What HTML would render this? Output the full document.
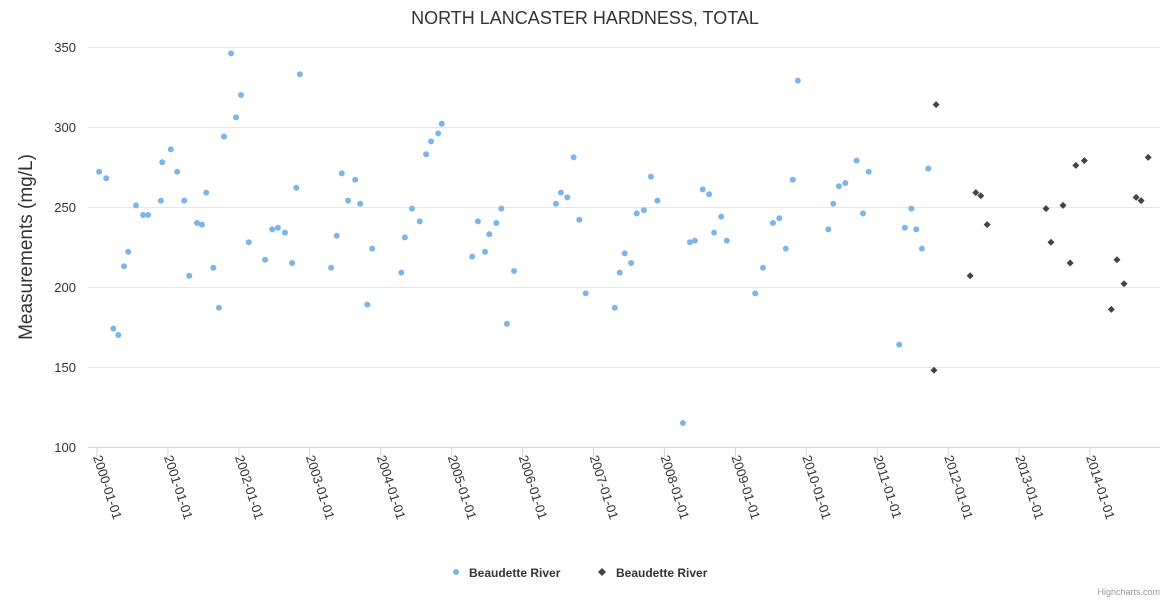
<!DOCTYPE html>
<html><head><meta charset="utf-8"><style>
body{margin:0;background:#fff;font-family:"Liberation Sans",sans-serif}
svg text{font-family:"Liberation Sans",sans-serif}
</style></head><body>
<svg id="chart" width="1170" height="600" xmlns="http://www.w3.org/2000/svg">
<rect width="1170" height="600" fill="#fff"/>
<text x="585" y="24" text-anchor="middle" font-size="18" fill="#333">NORTH LANCASTER HARDNESS, TOTAL</text>
<text transform="translate(32,247) rotate(-90)" text-anchor="middle" font-size="19" fill="#333">Measurements (mg/L)</text>
<g id="grid"></g><g id="xaxis"></g><g id="marks"></g>
<g>
<g><circle cx="456" cy="572" r="3" fill="#7cb5ec"/><text x="469" y="577" font-size="12" font-weight="bold" fill="#333">Beaudette River</text></g>
<g><path d="M602 568 L606 572 L602 576 L598 572Z" fill="#434348"/><text x="616" y="577" font-size="12" font-weight="bold" fill="#333">Beaudette River</text></g>
</g>
<text x="1160" y="595" text-anchor="end" font-size="9" fill="#999">Highcharts.com</text>
</svg>
<script>
const yTicks=[100,150,200,250,300,350];
const xTickYears=[2000,2001,2002,2003,2004,2005,2006,2007,2008,2009,2010,2011,2012,2013,2014];
const blueDates=[0.03,0.13,0.23,0.30,0.38,0.44,0.55,0.65,0.72,0.90,0.92,1.04,1.13,1.23,1.30,1.41,1.48,1.54,1.64,1.72,1.79,1.89,1.96,2.03,2.14,2.37,2.47,2.55,2.65,2.75,2.81,2.86,3.30,3.38,3.45,3.54,3.64,3.71,3.81,3.88,4.29,4.34,4.44,4.55,4.64,4.71,4.81,4.86,5.29,5.37,5.47,5.53,5.63,5.70,5.78,5.88,6.47,6.54,6.63,6.72,6.80,6.89,7.30,7.37,7.44,7.53,7.61,7.71,7.81,7.90,8.26,8.36,8.43,8.54,8.63,8.70,8.80,8.88,9.28,9.39,9.53,9.62,9.71,9.81,9.88,10.31,10.38,10.46,10.55,10.71,10.80,10.88,11.31,11.39,11.48,11.55,11.63,11.72].map(d=>2000+d);
const blueValues=[272,268,174,170,213,222,251,245,245,254,278,286,272,254,207,240,239,259,212,187,294,346,306,320,228,217,236,237,234,215,262,333,212,232,271,254,267,252,189,224,209,231,249,241,283,291,296,302,219,241,222,233,240,249,177,210,252,259,256,281,242,196,187,209,221,215,246,248,269,254,115,228,229,261,258,234,244,229,196,212,240,243,224,267,329,236,252,263,265,279,246,272,164,237,249,236,224,274];
const blackDates=[11.83,11.80,12.31,12.39,12.46,12.55,13.38,13.45,13.62,13.72,13.80,13.92,14.30,14.38,14.48,14.65,14.72,14.82].map(d=>2000+d);
const blackValues=[314,148,207,259,257,239,249,228,251,215,276,279,186,217,202,256,254,281];
const NS="http://www.w3.org/2000/svg";
const X0=88,X1=1160;
function xs(y){return 97+(y-2000)*70.93;}
function ys(v){return 447-(v-100)*1.6;}
function mk(t,a,p){const e=document.createElementNS(NS,t);for(const k in a)e.setAttribute(k,a[k]);p.appendChild(e);return e;}
const grid=document.getElementById('grid'),xa=document.getElementById('xaxis'),mks=document.getElementById('marks');
yTicks.forEach(v=>{
 const l=mk('line',{x1:X0,x2:X1,y1:ys(v)+0.5,y2:ys(v)+0.5,stroke:v===100?'#ccd6eb':'#e6e6e6'},grid);
 
 
 const t=mk('text',{x:76,y:ys(v)+5,'text-anchor':'end','font-size':13,fill:'#333'},grid);
 t.textContent=v;
 
 
});
xTickYears.forEach(yr=>{
 const x=xs(yr);
 const tk=mk('line',{x1:x,x2:x,y1:447,y2:457,stroke:'#ccd6eb'},xa);
 
 
 const t=mk('text',{transform:`translate(${x-4},${457}) rotate(72)`,'font-size':13,fill:'#333'},xa);
 t.textContent=yr+'-01-01';
 
 
});
blueDates.forEach((d,i)=>{
 const c=mk('circle',{cx:xs(d),cy:ys(blueValues[i]),r:3,fill:'#7cb5ec'},mks);
 
 
});
blackDates.forEach((d,i)=>{
 const x=xs(d),y=ys(blackValues[i]);
 const p=mk('path',{d:`M${x} ${y-3.5}L${x+3.5} ${y}L${x} ${y+3.5}L${x-3.5} ${y}Z`,fill:'#434348'},mks);
 
 
});
</script>
</body></html>
